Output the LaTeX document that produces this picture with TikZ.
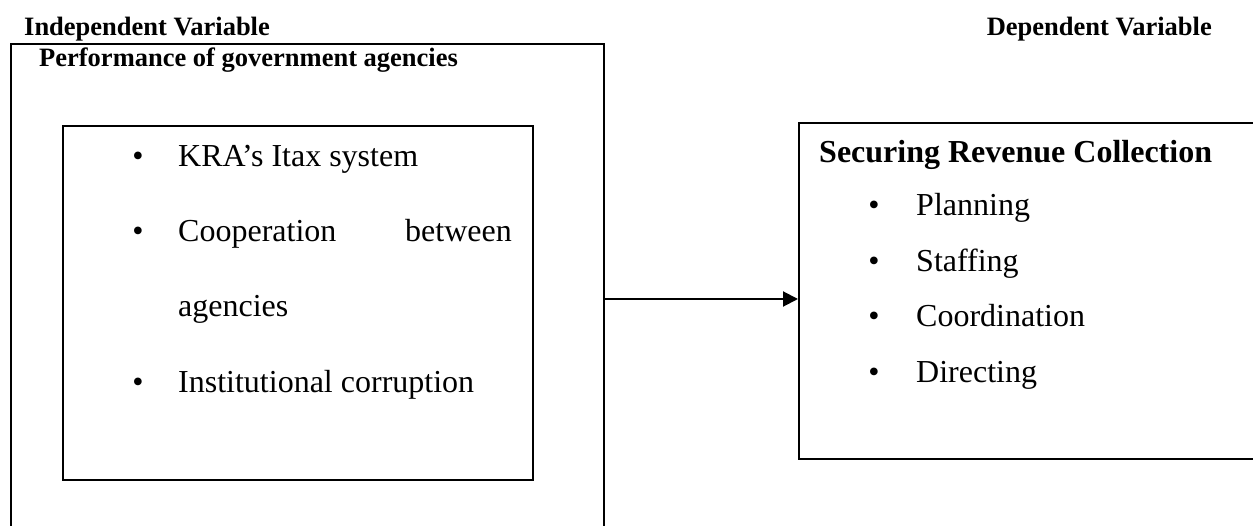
\documentclass[tikz,border=0pt]{standalone}
\usepackage{fontspec}
\setmainfont{Liberation Serif}
\usetikzlibrary{arrows.meta,positioning,calc}
\tikzset{
    frame/.style   = {rectangle, draw=black, line width=2pt, inner sep=0pt},
    heading/.style = {inner sep=0pt, font=\fontsize{26.5}{30}\selectfont\bfseries},
    item/.style    = {inner sep=0pt, anchor=base west, font=\fontsize{32}{36}\selectfont},
    dot/.style     = {inner sep=0pt, anchor=base, font=\fontsize{32}{36}\selectfont}
}

\begin{document}
\begin{tikzpicture}[x=1pt, y=-1pt,
        link/.style = {-{Triangle[length=15pt,width=15pt]}, line width=2pt}
    ]
        \useasboundingbox (0,0) rectangle (1253,526);
        \clip (0,0) rectangle (1253,526);

        % Top Headings
        \node[heading, anchor=base west] (indep) at (24,36) {Independent Variable};
        \node[heading, anchor=base east] (dep) at (1212,36) {Dependent Variable};

        % Left Frame (runs off the bottom)
        \node[frame, anchor=north west, minimum width=593pt, minimum height=510pt] (perf) at (10,43) {};
        \node[heading, anchor=base west] (perftitle) at (39,67) {Performance of government agencies};

        % Inner Box
        \node[frame, anchor=north west, minimum width=470pt, minimum height=354pt] (factors) at (62,125) {};
        \node[dot] (dot1) at (138,167) {•};
        \node[item] (kra) at (178,167) {KRA’s Itax system};
        \node[dot] (dot2) at (138,242) {•};
        \node[item] (coop) at (178,242) {Cooperation};
        \node[item, anchor=base east] (betw) at (512,242) {between};
        \node[item] (agen) at (178,317) {agencies};
        \node[dot] (dot3) at (138,392) {•};
        \node[item] (inst) at (178,392) {Institutional corruption};

        % Right Frame (runs off the right side)
        \node[frame, anchor=north west, minimum width=480pt, minimum height=336pt] (secure) at (798,122) {};
        \node[heading, font=\fontsize{32}{36}\selectfont\bfseries, anchor=base west] (sectitle) at (819,163) {Securing Revenue Collection};
        \foreach \t [count=\i] in {Planning, Staffing, Coordination, Directing} {
            \node[dot] (rdot\i) at (874, {160.5+55.5*\i}) {•};
            \node[item] (ritem\i) at (916, {160.5+55.5*\i}) {\t};
        }

        % Link
        \draw[link] (perf.east) -- (perf.east -| secure.west);

    \end{tikzpicture}
\end{document}
